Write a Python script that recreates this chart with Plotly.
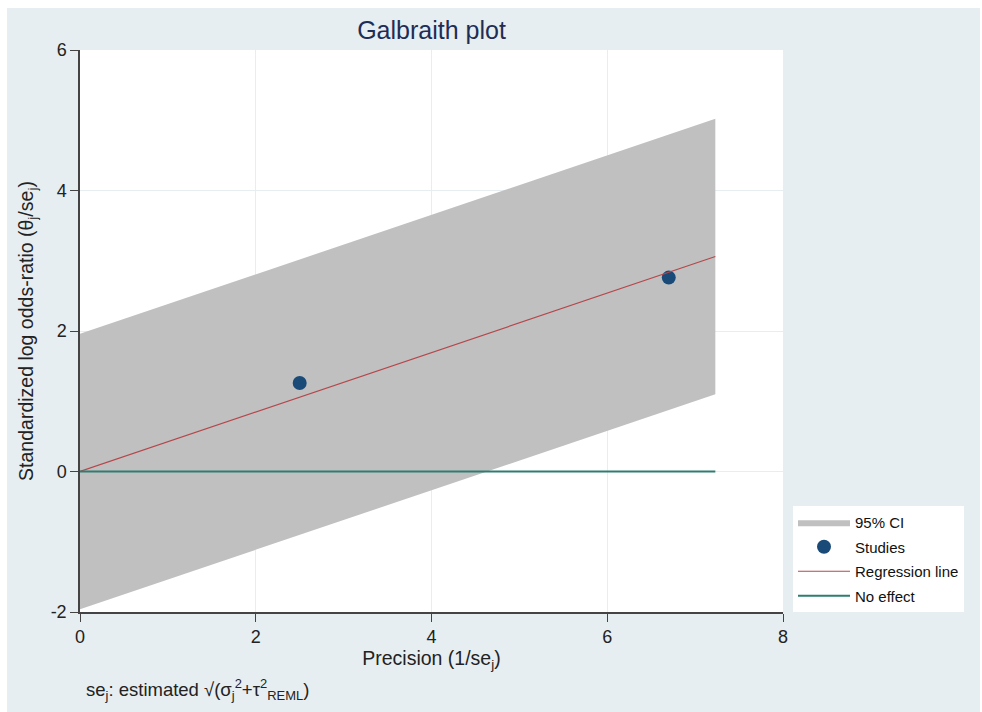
import plotly.graph_objects as go

# Data
study_precision = [2.50, 6.70]
study_std_effect = [1.26, 2.76]

line_precision = [0.0, 7.23]
regression_y = [0.0, 3.06]
ci_upper = [1.96, 5.02]
ci_lower = [-1.96, 1.10]
no_effect_y = [0.0, 0.0]

x_ticks = [0, 2, 4, 6, 8]
y_ticks = [-2, 0, 2, 4, 6]
y_tick_labels = ["-2", "0", "2", "4", "6"]

FONT = "Liberation Sans, Arial, sans-serif"
BG = "#e7eef1"

fig = go.Figure()

# CI polygon
fig.add_trace(go.Scatter(
    x=line_precision + line_precision[::-1],
    y=ci_upper + ci_lower[::-1],
    fill="toself", fillcolor="#c0c0c0", mode="lines",
    line=dict(width=0, color="#c0c0c0"),
    name="95% CI", legendgroup="a", hoverinfo="skip"))

fig.add_trace(go.Scatter(
    x=study_precision, y=study_std_effect, mode="markers",
    marker=dict(size=14, color="#1a4a78"),
    name="Studies", legendgroup="b"))

fig.add_trace(go.Scatter(
    x=line_precision, y=regression_y, mode="lines",
    line=dict(color="#b5474b", width=1.2),
    name="Regression line", legendgroup="c"))

fig.add_trace(go.Scatter(
    x=line_precision, y=no_effect_y, mode="lines",
    line=dict(color="#2e7c72", width=2),
    name="No effect", legendgroup="d"))

L, R, T, B = 80, 199, 50, 100
W, H = 982, 712
pw, ph = W - L - R, H - T - B

def px_x(p):
    return (p - L) / pw

def px_y(p):
    return (H - B - p) / ph

fig.update_layout(
    width=W, height=H,
    margin=dict(l=L, r=R, t=T, b=B),
    paper_bgcolor=BG, plot_bgcolor="white",
    font=dict(family=FONT, color="#222"),
    title=dict(text="Galbraith plot", x=0.5, xref="paper", xanchor="center",
               y=1 - 30 / H, yref="container", yanchor="middle",
               font=dict(size=25, color="#1e2d55", family=FONT)),
    xaxis=dict(range=[0, 8], tickvals=x_ticks, ticks="outside", ticklen=8,
               tickcolor="#444", showline=True, linecolor="#444", linewidth=1.5,
               showgrid=True, gridcolor="#e6eef1", zeroline=False,
               tickfont=dict(size=18, color="#222"),
               title=dict(text="Precision (1/se<sub>j</sub>)", standoff=5,
                          font=dict(size=19.5, color="#222"))),
    yaxis=dict(range=[-2, 6], tickvals=y_ticks, ticktext=y_tick_labels,
               ticks="outside", ticklen=8,
               tickcolor="#444", showline=True, linecolor="#444", linewidth=1.5,
               showgrid=True, gridcolor="#e6eef1", zeroline=False,
               tickfont=dict(size=18, color="#222"),
               title=dict(text="Standardized log odds-ratio (θ<sub>j</sub>/se<sub>j</sub>)",
                          standoff=12, font=dict(size=19.5, color="#222"))),
    legend=dict(x=px_x(793), y=px_y(506), xanchor="left", yanchor="top",
                bgcolor="white", borderwidth=0, tracegroupgap=2,
                font=dict(size=15, color="#111", family=FONT),
                itemwidth=52),
    showlegend=True,
)

# white outer border strips
fig.add_shape(type="rect", xref="paper", yref="paper",
              x0=px_x(0), x1=px_x(W), y0=px_y(8), y1=px_y(0),
              fillcolor="white", line=dict(width=0), layer="below")
fig.add_shape(type="rect", xref="paper", yref="paper",
              x0=px_x(0), x1=px_x(7), y0=px_y(H), y1=px_y(0),
              fillcolor="white", line=dict(width=0), layer="below")
fig.add_shape(type="rect", xref="paper", yref="paper",
              x0=px_x(980), x1=px_x(W), y0=px_y(H), y1=px_y(0),
              fillcolor="white", line=dict(width=0), layer="below")

fig.add_annotation(
    text="se<sub>j</sub>: estimated √(σ<sub>j</sub><sup>2</sup>+τ<sup>2</sup><sub>REML</sub>)",
    xref="paper", yref="paper", x=px_x(84), y=px_y(690),
    xanchor="left", yanchor="middle", showarrow=False,
    font=dict(size=18.5, color="#222", family=FONT))

fig.write_html("out.html")
